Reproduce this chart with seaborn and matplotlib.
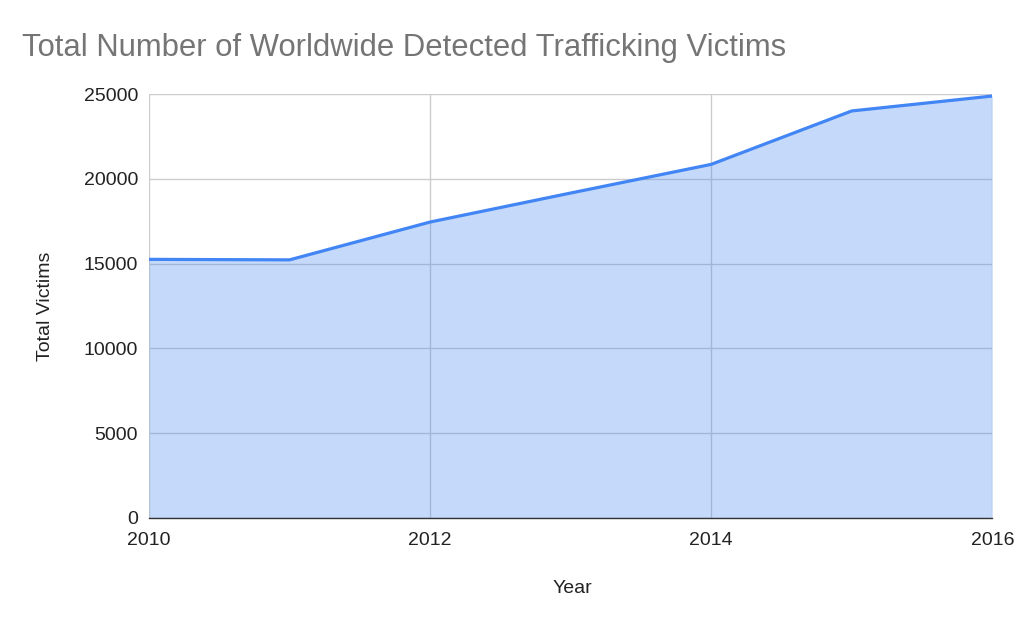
import numpy as np
import pandas as pd
import matplotlib
matplotlib.use("Agg")
import matplotlib.pyplot as plt
import seaborn as sns

# --- Data ---
years = [2010, 2011, 2012, 2013, 2014, 2015, 2016]
victims = [15250, 15220, 17450, 19160, 20850, 24000, 24880]
x_ticks = [2010, 2012, 2014, 2016]
y_ticks = [0, 5000, 10000, 15000, 20000, 25000]

df = pd.DataFrame({"Year": years, "Total Victims": victims})

sns.set_theme(style="white")
plt.rcParams['font.family'] = ['Liberation Sans', 'DejaVu Sans']

line_color = "#4285F4"
grid_color = "#cccccc"
text_color = "#222222"

fig, ax = plt.subplots(figsize=(10.24, 6.33), dpi=100)
fig.subplots_adjust(left=0.1455, right=0.969, top=0.8515, bottom=0.1817)

# grid sits under the semi-transparent fill (gives the bluish-grey lines inside the area)
ax.set_axisbelow(True)
ax.grid(True, color=grid_color, linewidth=1.0)

ax.fill_between(df["Year"], df["Total Victims"], 0, color=line_color, alpha=0.3, linewidth=0, zorder=1)
sns.lineplot(data=df, x="Year", y="Total Victims", color=line_color, linewidth=2.3, ax=ax, zorder=3)

ax.set_xlim(2010, 2016)
ax.set_ylim(0, 25000)
ax.set_xticks(x_ticks)
ax.set_yticks(y_ticks)
ax.set_xticklabels([str(t) for t in x_ticks], fontsize=14, color=text_color)
ax.set_yticklabels([str(t) for t in y_ticks], fontsize=14, color=text_color)
ax.tick_params(axis="x", length=0, pad=10)
ax.tick_params(axis="y", length=0, pad=8)

for side in ["top", "right", "left"]:
    ax.spines[side].set_visible(False)
ax.spines["bottom"].set_color("#333333")
ax.spines["bottom"].set_linewidth(1.0)
ax.spines["bottom"].set_zorder(4)

ax.set_xlabel("Year", fontsize=14, color=text_color)
ax.set_ylabel("Total Victims", fontsize=14, color=text_color)
ax.xaxis.set_label_coords(0.502, -0.146)
ax.yaxis.set_label_coords(-0.113, 0.5)

fig.text(0.0215, 0.911, "Total Number of Worldwide Detected Trafficking Victims",
         fontsize=22.3, color="#757575", ha="left", va="baseline")

fig.savefig("out.png", dpi=100, facecolor="white")
